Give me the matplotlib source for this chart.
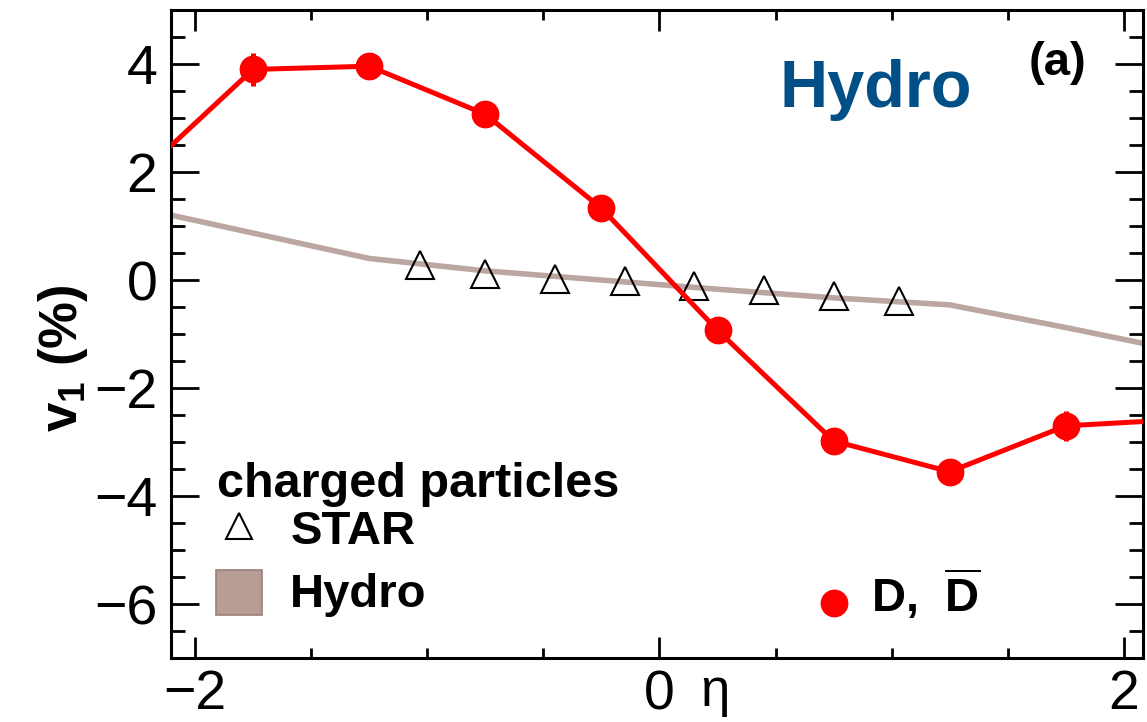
import numpy as np
import matplotlib.pyplot as plt
from matplotlib.ticker import MultipleLocator
from matplotlib.patches import Rectangle

plt.rcParams['font.family'] = ['Liberation Sans', 'DejaVu Sans']
plt.rcParams['mathtext.fontset'] = 'custom'
plt.rcParams['mathtext.rm'] = 'Liberation Sans'
plt.rcParams['mathtext.bf'] = 'Liberation Sans:bold'

# D, Dbar v1 from the model (outer points lie past the axis limits)
eta_d = [-2.25, -1.75, -1.25, -0.75, -0.25, 0.25, 0.75, 1.25, 1.75, 2.25]
v1_d = [1.9, 3.9, 3.96, 3.07, 1.33, -0.93, -2.98, -3.55, -2.70, -2.58]
err_d = [0.1, 0.3, 0.1, 0.1, 0.1, 0.1, 0.1, 0.1, 0.28, 0.1]

# charged particles: hydro curve and STAR data
eta_hydro = [-2.25, -1.75, -1.25, -0.75, -0.25, 0.25, 0.75, 1.25, 1.75, 2.25]
v1_hydro = [1.34, 0.87, 0.40, 0.17, 0.0, -0.17, -0.33, -0.46, -0.88, -1.32]

eta_star = [-1.03, -0.75, -0.45, -0.15, 0.15, 0.45, 0.75, 1.03]
v1_star = [0.27, 0.12, 0.02, -0.02, -0.11, -0.19, -0.30, -0.39]

hydro_col = '#bca6a1'
red = '#ff0000'

fig = plt.figure(figsize=(11.47, 7.22), dpi=100)
ax = fig.add_axes([0.1491, 0.0886, 0.8474, 0.8975])

ax.plot(eta_hydro, v1_hydro, color=hydro_col, lw=4, zorder=2)
ax.plot(eta_star, v1_star, ls='none', marker='^', ms=20, mfc='none',
        mec='black', mew=1.5, zorder=3)
ax.errorbar(eta_d, v1_d, yerr=err_d, color=red, lw=3.6, marker='o', ms=19,
            elinewidth=3.6, capsize=0, zorder=4)

ax.set_xlim(-2.103, 2.082)
ax.set_ylim(-7, 5)

ax.xaxis.set_minor_locator(MultipleLocator(0.5))
ax.yaxis.set_minor_locator(MultipleLocator(0.5))
ax.set_yticks([4, 2, 0, -2, -4, -6])
ax.set_yticklabels(['4', '2', '0', '\u22122', '\u22124', '\u22126'])
ax.set_xticks([-2, 0, 2])
ax.set_xticklabels(['\u22122', '0', '2'])

ax.tick_params(axis='both', which='both', direction='in', top=True,
               right=True, width=2, labelsize=40)
ax.tick_params(axis='y', which='major', length=20, pad=10)
ax.tick_params(axis='y', which='minor', length=10)
ax.tick_params(axis='x', which='major', length=15, pad=8)
ax.tick_params(axis='x', which='minor', length=7)
for s in ax.spines.values():
    s.set_linewidth(2.2)

ax.set_ylabel(r'$\mathbf{v_1}$ (%)', fontsize=38, fontweight='bold')
ax.yaxis.set_label_coords(-0.083, 0.463)
ax.text(0.56, -0.052, '\u03b7', transform=ax.transAxes, fontsize=38,
        ha='center', va='center')

ax.text(0.725, 0.876, 'Hydro', transform=ax.transAxes, fontsize=48,
        fontweight='bold', color='#004f87', ha='center', va='center')
ax.text(0.912, 0.918, '(a)', transform=ax.transAxes, fontsize=34,
        fontweight='bold', ha='center', va='center')

# legend block
ax.text(-1.903, -4.01, 'charged particles', fontsize=35, fontweight='bold',
        va='baseline')
ax.plot([-1.81], [-4.55], ls='none', marker='^', ms=19, mfc='none',
        mec='black', mew=1.5)
ax.text(-1.59, -4.88, 'STAR', fontsize=34, fontweight='bold', va='baseline')
ax.add_patch(Rectangle((-1.910, -6.20), 0.198, 0.83, facecolor='#b89c96',
                       edgecolor='#9c8079', lw=1.2))
ax.text(-1.59, -6.06, 'Hydro', fontsize=34, fontweight='bold', va='baseline')
ax.plot([0.75], [-5.98], ls='none', marker='o', ms=19, color=red)
ax.text(0.91, -6.15, r'D,  $\mathbf{\overline{D}}$', fontsize=34,
        fontweight='bold', va='baseline')

fig.savefig('out.png', dpi=100)
